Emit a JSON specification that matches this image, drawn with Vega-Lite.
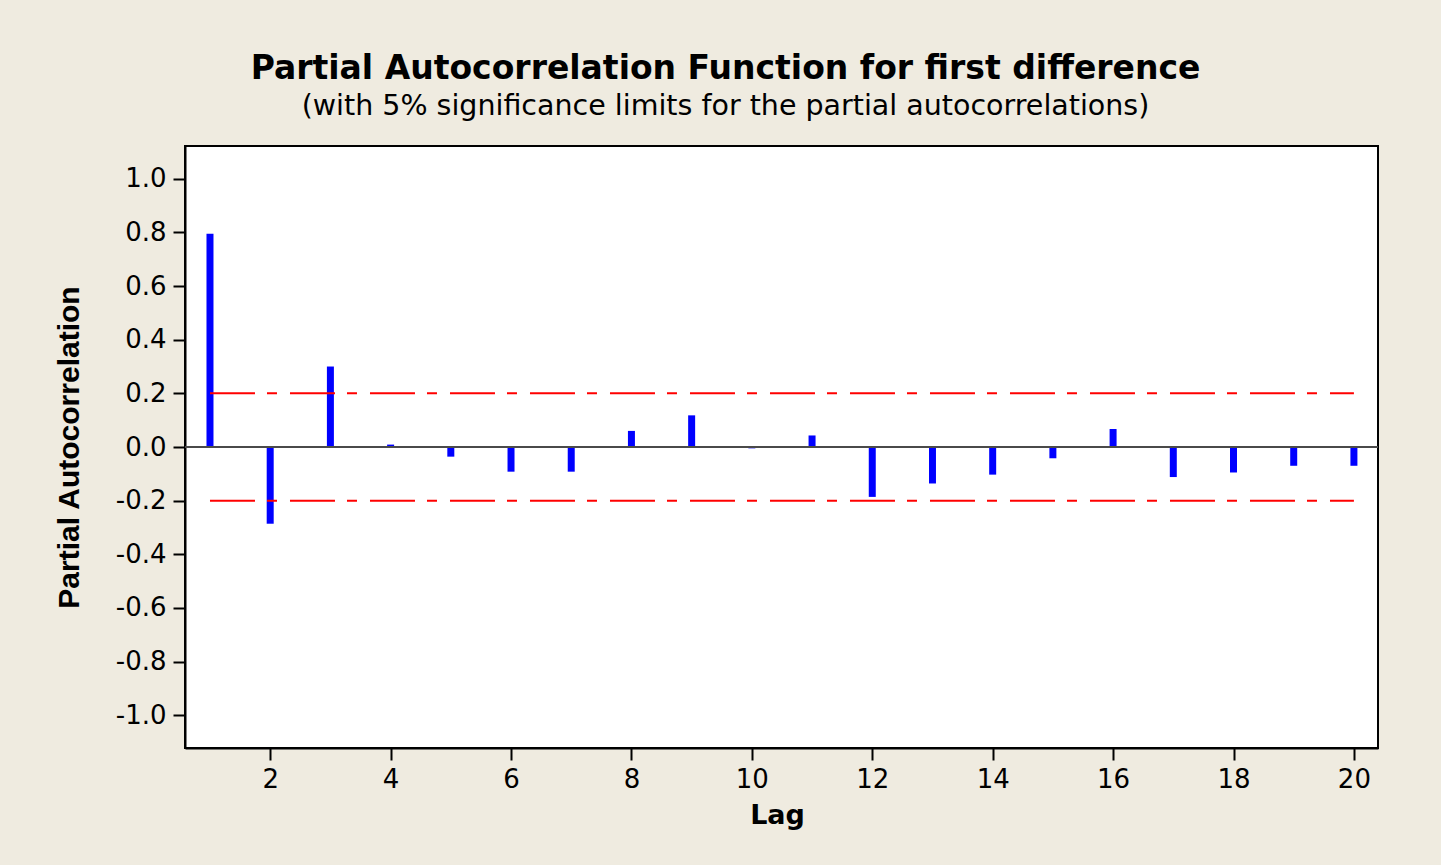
{
  "$schema": "https://vega.github.io/schema/vega-lite/v6.json",
  "autosize": {"type": "none"},
  "width": 1193,
  "height": 602,
  "padding": {"left": 185, "top": 146, "right": 63, "bottom": 117},
  "background": "#EFEBE0",
  "title": {
    "text": "Partial Autocorrelation Function for first difference",
    "subtitle": "(with 5% significance limits for the partial autocorrelations)",
    "font": "DejaVu Sans",
    "fontSize": 33,
    "fontWeight": "bold",
    "color": "#000000",
    "subtitleFont": "DejaVu Sans",
    "subtitleFontSize": 28.5,
    "subtitleColor": "#000000",
    "subtitlePadding": 6,
    "anchor": "middle",
    "dx": -56,
    "offset": 26
  },
  "datasets": {
    "pacf": [
      {"lag": 1, "pacf": 0.795},
      {"lag": 2, "pacf": -0.286},
      {"lag": 3, "pacf": 0.300},
      {"lag": 4, "pacf": 0.009},
      {"lag": 5, "pacf": -0.036},
      {"lag": 6, "pacf": -0.092},
      {"lag": 7, "pacf": -0.092},
      {"lag": 8, "pacf": 0.060},
      {"lag": 9, "pacf": 0.118},
      {"lag": 10, "pacf": -0.005},
      {"lag": 11, "pacf": 0.043},
      {"lag": 12, "pacf": -0.186},
      {"lag": 13, "pacf": -0.136},
      {"lag": 14, "pacf": -0.103},
      {"lag": 15, "pacf": -0.042},
      {"lag": 16, "pacf": 0.067},
      {"lag": 17, "pacf": -0.112},
      {"lag": 18, "pacf": -0.095},
      {"lag": 19, "pacf": -0.070},
      {"lag": 20, "pacf": -0.070}
    ],
    "limits": [
      {"limit": 0.2, "start": 1, "end": 20},
      {"limit": -0.2, "start": 1, "end": 20}
    ]
  },
  "config": {
    "view": {"stroke": "#000000", "strokeWidth": 2, "fill": "#FFFFFF"},
    "axis": {
      "domainColor": "#000000",
      "domainWidth": 2,
      "tickColor": "#000000",
      "tickWidth": 2,
      "tickSize": 12,
      "grid": false,
      "labelFont": "DejaVu Sans",
      "labelFontSize": 26,
      "labelColor": "#000000",
      "titleColor": "#000000"
    }
  },
  "layer": [
    {
      "data": {"name": "pacf"},
      "mark": {"type": "rule", "color": "#0000FF", "strokeWidth": 7, "strokeCap": "butt"},
      "encoding": {
        "x": {
          "field": "lag",
          "type": "quantitative",
          "scale": {"domain": [0.585, 20.4], "nice": false, "zero": false},
          "axis": {
            "values": [2, 4, 6, 8, 10, 12, 14, 16, 18, 20],
            "format": "d",
            "title": "Lag",
            "titleFont": "DejaVu Sans",
            "titleFontSize": 27,
            "titleFontWeight": "bold",
            "titlePadding": 10,
            "titleX": 592,
            "labelPadding": 6,
            "labelFlush": false
          }
        },
        "y": {
          "field": "pacf",
          "type": "quantitative",
          "scale": {"domain": [-1.122, 1.122], "nice": false, "zero": false},
          "axis": {
            "values": [-1, -0.8, -0.6, -0.4, -0.2, 0, 0.2, 0.4, 0.6, 0.8, 1],
            "labelExpr": "datum.value < -0.00001 ? '-' + format(-datum.value, '.1f') : format(abs(datum.value), '.1f')",
            "title": "Partial Autocorrelation",
            "titleFont": "Liberation Sans",
            "titleFontSize": 30,
            "titleFontWeight": "bold",
            "titlePadding": 31,
            "labelPadding": 7,
            "labelFlush": false
          }
        },
        "y2": {"datum": 0}
      }
    },
    {
      "data": {"values": [{"zero": 0}]},
      "mark": {"type": "rule", "color": "#4A4A4A", "strokeWidth": 2},
      "encoding": {
        "y": {"field": "zero", "type": "quantitative"}
      }
    },
    {
      "data": {"name": "limits"},
      "mark": {"type": "rule", "color": "#FF0000", "strokeWidth": 2, "strokeDash": [45, 12, 10, 13]},
      "encoding": {
        "x": {"field": "start", "type": "quantitative"},
        "x2": {"field": "end"},
        "y": {"field": "limit", "type": "quantitative"}
      }
    }
  ]
}
